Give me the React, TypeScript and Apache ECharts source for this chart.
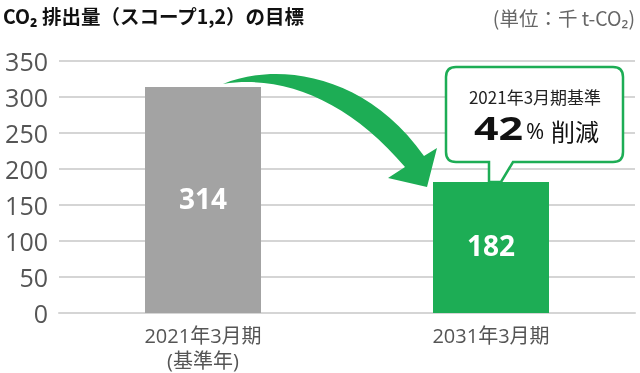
import React, { useEffect, useRef } from "react";
import * as echarts from "echarts";

const categories = ["2021年3月期\n(基準年)", "2031年3月期"];
const values = [314, 182];
const barColors = ["#a3a3a3", "#1dad55"];
const yTicks = { min: 0, max: 350, interval: 50 };

const titleText = "CO₂ 排出量（スコープ1,2）の目標";
const unitText = "(単位：千 t-CO₂)";
const calloutLine1 = "2021年3月期基準";
const calloutPct = "42";

const ARROW =
  "M 223 84 C 275 62, 365 72, 424 156 L 437 148 L 427 187 L 388 178 L 405 167 C 350 102, 285 74, 223 84 Z";
const CALLOUT =
  "M 456 67 L 613 67 Q 623 67 623 77 L 623 152 Q 623 162 613 162 L 513 162 L 501 182 L 489 182 L 489 162 L 456 162 Q 446 162 446 152 L 446 77 Q 446 67 456 67 Z";

let registered = false;
function registerShapes() {
  if (registered) return;
  registered = true;
  echarts.graphic.registerShape("arrowShape", echarts.graphic.extendPath(ARROW, {}) as any);
  echarts.graphic.registerShape("calloutShape", echarts.graphic.extendPath(CALLOUT, {}) as any);
}

export default function App() {
  const ref = useRef<HTMLDivElement>(null);
  useEffect(() => {
    registerShapes();
    const chart = echarts.init(ref.current!, undefined, { renderer: "svg" });
    const font = '"Open Sans", "Noto Sans CJK JP", sans-serif';
    const cjk = '"Noto Sans CJK JP", "Noto Sans", sans-serif';
    chart.setOption({
      animation: false,
      grid: { left: 59, right: 5, top: 61, bottom: 60, containLabel: false },
      xAxis: {
        type: "category",
        data: categories,
        axisLine: { show: true, lineStyle: { color: "#d5d5d5", width: 2 } },
        axisTick: { show: false },
        axisLabel: {
          color: "#555",
          fontSize: 20,
          fontFamily: font,
          lineHeight: 25,
          margin: 10,
        },
      },
      yAxis: {
        type: "value",
        min: yTicks.min,
        max: yTicks.max,
        interval: yTicks.interval,
        axisLine: { show: false },
        axisTick: { show: false },
        splitLine: { lineStyle: { color: "#d5d5d5", width: 2 } },
        axisLabel: { color: "#555", fontSize: 25, fontFamily: font, margin: 11 },
      },
      series: [
        {
          type: "bar",
          barWidth: 116,
          data: values.map((v, i) => ({ value: v, itemStyle: { color: barColors[i] } })),
          label: {
            show: true,
            position: "inside",
            color: "#fff",
            fontSize: 28,
            fontWeight: "bold",
            fontFamily: font,
            offset: [0, -2],
          },
        },
      ],
      graphic: [
        {
          type: "text",
          left: 3,
          top: 6,
          style: { text: titleText, fontSize: 19.5, fontWeight: "bold", fill: "#111", fontFamily: cjk },
        },
        {
          type: "text",
          right: 5,
          top: 8,
          style: { text: unitText, fontSize: 19.5, fill: "#666", fontFamily: cjk },
        },
        { type: "arrowShape", x: 0, y: 0, style: { fill: "#1dad55" }, z: 100 },
        {
          type: "calloutShape",
          x: 0,
          y: 0,
          style: { fill: "#fff", stroke: "#1dad55", lineWidth: 2.5 },
          z: 100,
        },
        {
          type: "text",
          x: 535,
          y: 96,
          z: 101,
          style: {
            text: calloutLine1,
            fontSize: 17,
            fill: "#222",
            fontFamily: cjk,
            align: "center",
            verticalAlign: "middle",
          },
        },
        {
          type: "text",
          x: 523,
          y: 127,
          scaleX: 1.3,
          z: 101,
          style: {
            text: calloutPct,
            fontSize: 33,
            fontWeight: "bold",
            fill: "#111",
            fontFamily: font,
            align: "right",
            verticalAlign: "middle",
          },
        },
        {
          type: "text",
          x: 526,
          y: 130,
          z: 101,
          style: { text: "%", fontSize: 22, fill: "#111", fontFamily: font, verticalAlign: "middle" },
        },
        {
          type: "text",
          x: 551,
          y: 130,
          z: 101,
          style: {
            text: "削減",
            fontSize: 24,
            fill: "#111",
            fontFamily: cjk,
            verticalAlign: "middle",
          },
        },
      ],
    });
    return () => chart.dispose();
  }, []);
  return <div ref={ref} style={{ position: "fixed", left: 0, top: 0, width: 640, height: 373 }} />;
}
